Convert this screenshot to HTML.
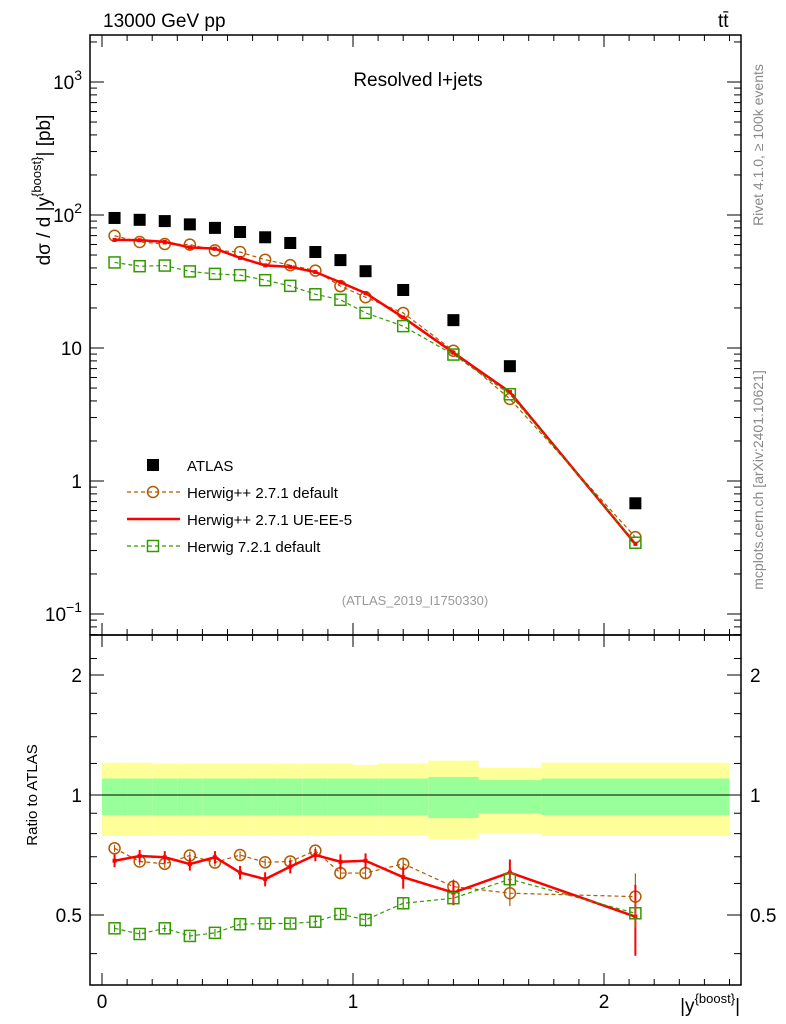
<!DOCTYPE html>
<html><head><meta charset="utf-8"><style>
body{margin:0;background:#fff}
svg{display:block;font-family:"Liberation Sans",sans-serif}
</style></head><body>
<svg id="c" width="786" height="1024" xmlns="http://www.w3.org/2000/svg">
<text x="103" y="27" font-size="19">13000 GeV pp</text>
<text x="718" y="27" font-size="19">tt̄</text>
<text x="418" y="86" font-size="19" text-anchor="middle">Resolved l+jets</text>
<text transform="translate(763,145) rotate(-90)" font-size="14" fill="#888" text-anchor="middle">Rivet 4.1.0, ≥ 100k events</text>
<text transform="translate(763,480) rotate(-90)" font-size="14" fill="#888" text-anchor="middle">mcplots.cern.ch [arXiv:2401.10621]</text>
<text x="415" y="605" font-size="13" fill="#999" text-anchor="middle">(ATLAS_2019_I1750330)</text>
<text transform="translate(50,190) rotate(-90)" font-size="19" text-anchor="middle">dσ / d |y<tspan dy="-9" font-size="13">{boost}</tspan><tspan dy="9">| [pb]</tspan></text>
<text transform="translate(37,795) rotate(-90)" font-size="15" text-anchor="middle">Ratio to ATLAS</text>
<text x="740" y="1012" font-size="19" text-anchor="end">|y<tspan dy="-9" font-size="13">{boost}</tspan><tspan dy="9">|</tspan></text>
<g id="g"></g>
</svg>
<script>
const edges=[0,0.1,0.2,0.3,0.4,0.5,0.6,0.7,0.8,0.9,1.0,1.1,1.3,1.5,1.75,2.5];
const centers=[0.05,0.15,0.25,0.35,0.45,0.55,0.65,0.75,0.85,0.95,1.05,1.2,1.4,1.625,2.125];
const atlas=[95,92,90,85,80,74.5,68,61.6,52.7,45.8,37.8,27.3,16.2,7.3,0.68];
const ratioDefault=[0.735,0.681,0.672,0.705,0.677,0.707,0.678,0.681,0.725,0.637,0.637,0.672,0.589,0.567,0.556];
const ratioUE=[0.684,0.703,0.698,0.671,0.698,0.639,0.615,0.661,0.707,0.68,0.684,0.622,0.569,0.639,0.495];
const ratioH7=[0.463,0.448,0.463,0.443,0.451,0.474,0.476,0.476,0.481,0.503,0.486,0.535,0.551,0.615,0.505];
const errDefault=[0.015,0.015,0.015,0.015,0.015,0.015,0.015,0.015,0.015,0.02,0.02,0.02,0.025,0.04,0.08];
const errUE=[0.025,0.025,0.025,0.025,0.025,0.025,0.025,0.025,0.025,0.03,0.03,0.04,0.04,0.05,0.1];
const errH7=[0.01,0.01,0.01,0.01,0.01,0.012,0.012,0.012,0.015,0.015,0.02,0.015,0.02,0.03,0.04];
const yelHi=[1.205,1.205,1.2,1.2,1.2,1.2,1.2,1.2,1.2,1.2,1.19,1.2,1.22,1.17,1.205];
const yelLo=[0.789,0.789,0.79,0.79,0.79,0.79,0.79,0.79,0.79,0.79,0.79,0.79,0.776,0.8,0.789];
const grnHi=[1.10,1.10,1.10,1.10,1.10,1.10,1.10,1.10,1.10,1.10,1.10,1.10,1.11,1.09,1.10];
const grnLo=[0.891,0.891,0.89,0.89,0.89,0.89,0.89,0.89,0.89,0.89,0.89,0.89,0.875,0.9,0.891];
const yTickExp=[-1,0,1,2,3];
const xTicks=[0,1,2];
const rTicks=[0.5,1,2];

const X=v=>102+251*v;
const YT=v=>481-133*Math.log10(v);
const YR=v=>795-120*Math.log2(v);
const L=90,R=741,T1=35,B1=635,B2=985;
const g=document.getElementById('g');
const NS='http://www.w3.org/2000/svg';
function mk(t,a,p){const e=document.createElementNS(NS,t);for(const k in a)e.setAttribute(k,a[k]);(p||g).appendChild(e);return e;}

for(let i=0;i<centers.length;i++){
 const x0=X(edges[i]),x1=X(edges[i+1]);
 const y=mk('rect',{x:x0,y:YR(yelHi[i]),width:x1-x0,height:YR(yelLo[i])-YR(yelHi[i]),fill:'#ffff99'});
 
 
 const gr=mk('rect',{x:x0,y:YR(grnHi[i]),width:x1-x0,height:YR(grnLo[i])-YR(grnHi[i]),fill:'#99ff99'});
 
 
}
mk('line',{x1:L,x2:R,y1:YR(1),y2:YR(1),stroke:'#000','stroke-width':1});

const f1=mk('rect',{x:L,y:T1,width:R-L,height:B1-T1,fill:'none',stroke:'#000','stroke-width':1.5});


const f2=mk('rect',{x:L,y:B1,width:R-L,height:B2-B1,fill:'none',stroke:'#000','stroke-width':1.5});



for(let k=0;k<=25;k++){const v=k/10,x=X(v),big=k%10==0,l=big?12:6;
 for(const [yy,d] of [[B1,-1],[T1,1],[B2,-1],[B1,1]]) mk('line',{x1:x,x2:x,y1:yy,y2:yy+d*l,stroke:'#000'});}
xTicks.forEach(v=>{const t=mk('text',{x:X(v),y:1008,'font-size':19,'text-anchor':'middle'});t.textContent=v;
 
 });
for(let d=-2;d<=3;d++)for(let m=1;m<10;m++){const v=m*Math.pow(10,d),y=YT(v);if(y<T1||y>B1)continue;const l=m==1?14:7;
 mk('line',{x1:L,x2:L+l,y1:y,y2:y,stroke:'#000'});mk('line',{x1:R,x2:R-l,y1:y,y2:y,stroke:'#000'});}
yTickExp.forEach(e=>{const v=Math.pow(10,e);const t=mk('text',{x:82,y:YT(v)+7,'font-size':19,'text-anchor':'end'});
 if(e==0)t.textContent='1';else if(e==1)t.textContent='10';
 else{t.textContent='10';const ts=mk('tspan',{dy:-9,'font-size':14},t);ts.textContent=e<0?'−1':String(e);}
 
 });
[0.4,0.5,0.6,0.7,0.8,0.9,1,1.2,1.4,1.6,1.8,2,2.2].forEach(v=>{const y=YR(v);if(y<B1||y>B2)return;const l=[0.5,1,2].includes(v)?14:7;
 mk('line',{x1:L,x2:L+l,y1:y,y2:y,stroke:'#000'});mk('line',{x1:R,x2:R-l,y1:y,y2:y,stroke:'#000'});});
rTicks.forEach(v=>{for(const [x,a] of [[82,'end'],[750,'start']]){const t=mk('text',{x:x,y:YR(v)+7,'font-size':19,'text-anchor':a});t.textContent=v;
 
 }});

const series=[
 {r:ratioDefault,e:errDefault,c:'#b35900',dash:'4,3',w:1.2,m:'circle',name:'herwigpp-default'},
 {r:ratioUE,e:errUE,c:'#ff0000',dash:'',w:2.5,m:'none',name:'herwigpp-ue-ee-5'},
 {r:ratioH7,e:errH7,c:'#339900',dash:'4,3',w:1.2,m:'square',name:'herwig7-default'}];
function marker(m,x,y,c,p){ if(m=='circle') return mk('circle',{cx:x,cy:y,r:5.5,fill:'none',stroke:c,'stroke-width':1.5},p);
 if(m=='square') return mk('rect',{x:x-5.5,y:y-5.5,width:11,height:11,fill:'none',stroke:c,'stroke-width':1.5},p);
 return mk('rect',{x:x-2,y:y-2,width:4,height:4,fill:c},p);}
series.forEach(s=>{
 for(const [Y,vals] of [[YT,s.r.map((r,i)=>r*atlas[i])],[YR,s.r]]){
  const pg=mk('g',{});
  
  
  const pts=centers.map((c,i)=>X(c)+','+Y(vals[i])).join(' ');
  mk('polyline',{points:pts,fill:'none',stroke:s.c,'stroke-width':s.w,'stroke-dasharray':s.dash},pg);
  centers.forEach((c,i)=>{const x=X(c),y=Y(vals[i]);
   if(Y===YR){const e=s.e[i];mk('line',{x1:x,x2:x,y1:YR(vals[i]+e),y2:YR(vals[i]-e),stroke:s.c,'stroke-width':s.w>2?2:1.2},pg);}
   const mm=marker(s.m,x,y,s.c,pg);
   
   });
 }});
atlas.forEach((v,i)=>{const r=mk('rect',{x:X(centers[i])-6,y:YT(v)-6,width:12,height:12,fill:'#000'});
 
 });

const leg=[['ATLAS','#000','','sqfill'],['Herwig++ 2.7.1 default','#b35900','4,3','circle'],['Herwig++ 2.7.1 UE-EE-5','#ff0000','','none'],['Herwig 7.2.1 default','#339900','4,3','square']];
leg.forEach((l,i)=>{const y=465+i*27;const lg=mk('g',{});
 
 
 if(l[3]=='sqfill')mk('rect',{x:147,y:y-6,width:12,height:12,fill:'#000'},lg);
 else{mk('line',{x1:127,x2:180,y1:y,y2:y,stroke:l[1],'stroke-width':l[3]=='none'?2.5:1.2,'stroke-dasharray':l[2]},lg);
  if(l[3]!='none')marker(l[3],153,y,l[1],lg);}
 const t=mk('text',{x:187,y:y+6,'font-size':15},lg);t.textContent=l[0];});
</script>
</body></html>
